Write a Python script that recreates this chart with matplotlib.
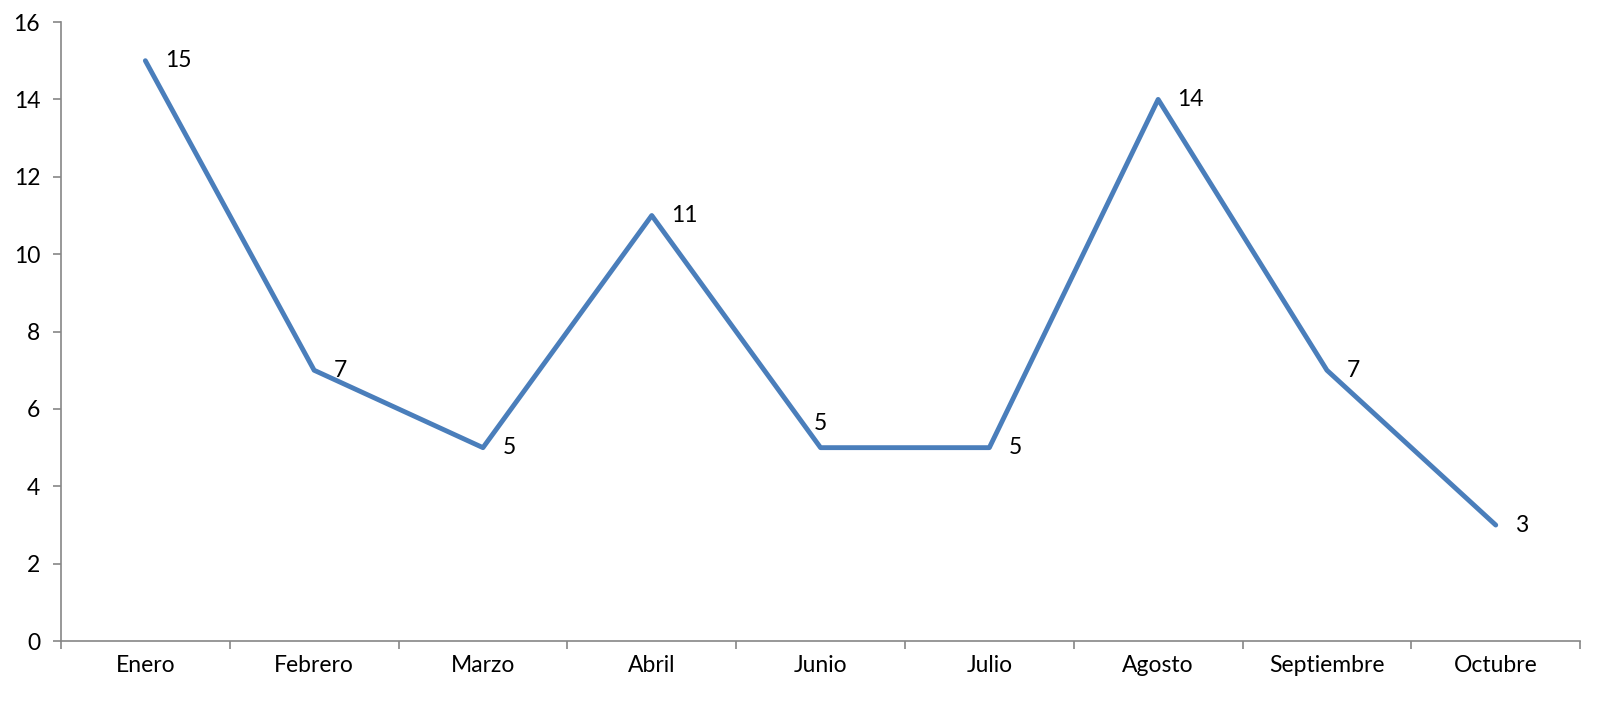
import matplotlib.pyplot as plt

meses = ["Enero", "Febrero", "Marzo", "Abril", "Junio", "Julio", "Agosto", "Septiembre", "Octubre"]
valores = [15, 7, 5, 11, 5, 5, 14, 7, 3]

plt.rcParams['font.family'] = ['Lato', 'DejaVu Sans']

fig = plt.figure(figsize=(16.17, 7.1), dpi=100)
ax = fig.add_axes([0.0377, 0.097, 0.9395, 0.872])

x = list(range(len(meses)))
ax.plot(x, valores, color="#4a7ebb", linewidth=3.5, solid_joinstyle="round", solid_capstyle="round")

for i, v in enumerate(valores):
	if meses[i] == "Junio":
		ax.annotate(str(v), (i, v), xytext=(0, 10), textcoords="offset points",
			ha="center", va="bottom", fontsize=16.5)
	else:
		ax.annotate(str(v), (i, v), xytext=(14, 0), textcoords="offset points",
			ha="left", va="center", fontsize=16.5)

ax.set_xlim(-0.5, len(meses) - 0.5)
ax.set_ylim(0, 16)
ax.set_yticks(range(0, 17, 2))
ax.set_xticks([i - 0.5 for i in range(len(meses) + 1)])
ax.set_xticklabels([])
ax.set_xticks(x, minor=True)
ax.set_xticklabels(meses, minor=True)

for s in ("top", "right"):
	ax.spines[s].set_visible(False)
for s in ("left", "bottom"):
	ax.spines[s].set_color("#868686")
	ax.spines[s].set_linewidth(1.2)
ax.tick_params(axis="x", which="major", length=6, width=1.2, color="#868686", direction="out")
ax.tick_params(axis="x", which="minor", length=0, labelsize=16.5, pad=10)
ax.tick_params(axis="y", length=6, width=1.2, color="#868686", labelsize=16.5, pad=9)

fig.savefig("out.png", dpi=100)
